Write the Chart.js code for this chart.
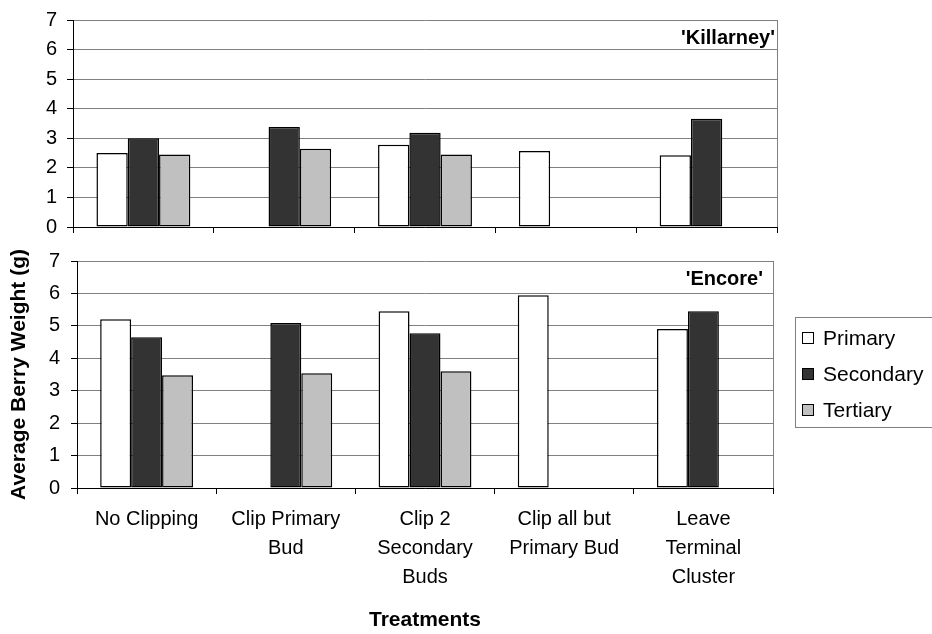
<!DOCTYPE html>
<html>
<head>
<meta charset="utf-8">
<script src="https://cdn.jsdelivr.net/npm/chart.js@4"></script>
<style>
  html, body { margin: 0; padding: 0; background: #fff; overflow: hidden; }
  body { width: 932px; height: 634px; position: relative; font-family: 'Liberation Sans', Arial, sans-serif; }
  canvas { position: absolute; left: 0; }
  #topChart { top: 0; }
  #bottomChart { top: 240px; }
  .legend {
    position: absolute; left: 795px; top: 317px; width: 160px; height: 111px;
    border: 1px solid #808080; box-sizing: border-box; padding-top: 2px;
    font-size: 21px; color: #000;
  }
  .legend .row { height: 36px; display: flex; align-items: center; }
  .legend .sw { width: 10px; height: 10px; border: 1.5px solid #000; margin-left: 6px; margin-right: 9px; }
</style>
</head>
<body>
<canvas id="topChart" width="932" height="240"></canvas>
<canvas id="bottomChart" width="932" height="394"></canvas>
<div class="legend" id="legend"></div>

<script>
// ---- data ----
const treatments = [
    ['No Clipping'],
    ['Clip Primary', 'Bud'],
    ['Clip 2', 'Secondary', 'Buds'],
    ['Clip all but', 'Primary Bud'],
    ['Leave', 'Terminal', 'Cluster']
];
const seriesNames = ['Primary', 'Secondary', 'Tertiary'];
const seriesColors = ['#ffffff', '#333333', '#c0c0c0'];

const killarneyPrimary   = [2.50, null, 2.78, 2.57, 2.43];
const killarneySecondary = [3.00, 3.38, 3.19, null, 3.66];
const killarneyTertiary  = [2.45, 2.65, 2.45, null, null];

const encorePrimary   = [5.20, null, 5.45, 5.94, 4.90];
const encoreSecondary = [4.65, 5.09, 4.77, null, 5.45];
const encoreTertiary  = [3.48, 3.54, 3.60, null, null];

const yTicks = [0, 1, 2, 3, 4, 5, 6, 7];

Chart.defaults.font.family = "'Liberation Sans', Arial, sans-serif";
Chart.defaults.color = '#000';

// right frame line + cultivar label in the top right corner
const panelDeco = {
    id: 'panelDeco',
    afterDraw(chart, args, opts) {
        const { ctx, chartArea } = chart;
        ctx.save();
        ctx.strokeStyle = '#808080';
        ctx.lineWidth = 1;
        ctx.beginPath();
        ctx.moveTo(Math.round(chartArea.right) + 0.5, chartArea.top);
        ctx.lineTo(Math.round(chartArea.right) + 0.5, chartArea.bottom);
        ctx.stroke();
        ctx.font = "bold 20px 'Liberation Sans', Arial, sans-serif";
        ctx.fillStyle = '#000';
        ctx.textAlign = 'right';
        ctx.textBaseline = 'middle';
        ctx.fillText(opts.text, chartArea.right - opts.dx, chartArea.top + 18);
        ctx.restore();
    }
};

function makeDatasets(values) {
    return values.map((v, i) => ({
        label: seriesNames[i],
        data: v,
        backgroundColor: seriesColors[i],
        borderColor: '#000',
        borderWidth: 1.5,
        borderSkipped: false,
        categoryPercentage: 0.667,
        barPercentage: 1
    }));
}

function panel(canvasId, values, name, opt) {
    return new Chart(document.getElementById(canvasId), {
        type: 'bar',
        data: { labels: treatments, datasets: makeDatasets(values) },
        options: {
            responsive: false,
            animation: false,
            layout: { padding: { top: opt.padTop, right: opt.padRight, left: 0, bottom: 0 } },
            plugins: {
                legend: { display: false },
                tooltip: { enabled: false },
                panelDeco: { text: name, dx: opt.labelDx }
            },
            scales: {
                x: {
                    grid: { display: true, drawOnChartArea: false, drawTicks: true, tickLength: 6, tickColor: '#000' },
                    border: { color: '#000', width: 1 },
                    ticks: {
                        display: opt.showX,
                        maxRotation: 0, autoSkip: false,
                        font: { size: 20, lineHeight: 1.45 },
                        padding: 11
                    },
                    title: {
                        display: opt.showX,
                        text: 'Treatments',
                        font: { size: 21, weight: 'bold' },
                        padding: { top: 0, bottom: 1 }
                    },
                    afterFit: (s) => { s.height = opt.xHeight; }
                },
                y: {
                    min: 0, max: 7,
                    afterBuildTicks: (s) => { s.ticks = yTicks.map(v => ({ value: v })); },
                    grid: { color: '#808080', lineWidth: 1, tickLength: 6, tickColor: '#000' },
                    border: { color: '#000', width: 1 },
                    ticks: { font: { size: 20 }, padding: opt.tickPad },
                    title: {
                        display: opt.showYTitle,
                        text: 'Average Berry Weight (g)',
                        font: { size: 21, weight: 'bold' },
                        padding: { top: 7, bottom: 0 }
                    },
                    afterFit: (s) => {
                        s.width = opt.yWidth;
                        // let the layout padding alone decide the plot top/bottom
                        s.paddingTop = 0;
                        s.paddingBottom = 0;
                    }
                }
            }
        },
        plugins: [panelDeco]
    });
}

panel('topChart', [killarneyPrimary, killarneySecondary, killarneyTertiary], "'Killarney'", {
    padTop: 20, padRight: 155, xHeight: 13, yWidth: 73, tickPad: 10,
    showX: false, showYTitle: false, labelDx: 2
});

panel('bottomChart', [encorePrimary, encoreSecondary, encoreTertiary], "'Encore'", {
    padTop: 21, padRight: 159, xHeight: 146, yWidth: 77, tickPad: 11,
    showX: true, showYTitle: true, labelDx: 10
});

// legend
const legend = document.getElementById('legend');
seriesNames.forEach((n, i) => {
    const row = document.createElement('div');
    row.className = 'row';
    const sw = document.createElement('span');
    sw.className = 'sw';
    sw.style.background = seriesColors[i];
    const t = document.createElement('span');
    t.textContent = n;
    row.appendChild(sw);
    row.appendChild(t);
    legend.appendChild(row);
});
</script>
</body>
</html>
